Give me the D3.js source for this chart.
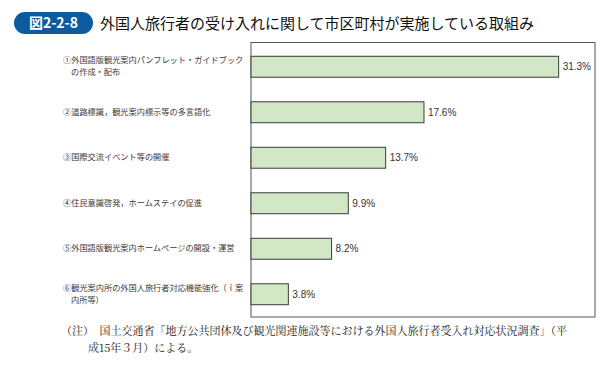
<!DOCTYPE html>
<html>
<head>
<meta charset="utf-8">
<script src="https://cdn.jsdelivr.net/npm/d3@7"></script>
<style>
  body { margin: 0; background: #fff; }
  svg { display: block; }
</style>
</head>
<body>
<svg width="614" height="367"></svg>
<script>
// 図2-2-8 data
var categories = [
    ["①外国語版観光案内パンフレット・ガイドブック", "の作成・配布"],
    ["②道路標識，観光案内標示等の多言語化"],
    ["③国際交流イベント等の開催"],
    ["④住民意識啓発，ホームステイの促進"],
    ["⑤外国語版観光案内ホームページの開設・運営"],
    ["⑥観光案内所の外国人旅行者対応機能強化（ｉ案", "内所等）"]
];
var values = [31.3, 17.6, 13.7, 9.9, 8.2, 3.8];
var xDomain = [0, 35];

var svg = d3.select("svg");
var jp = "'Noto Sans CJK JP', sans-serif";

var box = {left: 251, right: 595, top: 42.5, bottom: 317};

// title
svg.append("rect")
    .attr("x", 14).attr("y", 12)
    .attr("width", 79).attr("height", 22)
    .attr("rx", 11)
    .attr("fill", "#0b5b9e");
svg.append("text")
    .attr("x", 53.5).attr("y", 28)
    .attr("text-anchor", "middle")
    .attr("fill", "#fff")
    .style("font-family", jp)
    .style("font-weight", "bold")
    .style("font-size", "14px")
    .text("図2-2-8");
svg.append("text")
    .attr("x", 100).attr("y", 28.5)
    .attr("fill", "#111")
    .style("font-family", jp)
    .style("font-size", "15px")
    .text("外国人旅行者の受け入れに関して市区町村が実施している取組み");

var x = d3.scaleLinear()
    .domain(xDomain)
    .range([box.left, box.right]);

var y = d3.scaleBand()
    .domain(d3.range(values.length))
    .range([44, 317])
    .paddingInner(0.54)
    .paddingOuter(0.27);

// frame
svg.append("rect")
    .attr("x", box.left).attr("y", box.top)
    .attr("width", box.right - box.left)
    .attr("height", box.bottom - box.top)
    .attr("fill", "none")
    .attr("stroke", "#555")
    .attr("stroke-width", 1);

svg.selectAll(".bar")
    .data(values)
    .enter()
    .append("rect")
        .classed("bar", true)
        .attr("x", x(0))
        .attr("y", (d, i)=>y(i))
        .attr("width", d=>x(d) - x(0))
        .attr("height", y.bandwidth())
        .attr("fill", "#d1e7c5")
        .attr("stroke", "#3a3a3a")
        .attr("stroke-width", 1);

svg.selectAll(".val")
    .data(values)
    .enter()
    .append("text")
        .classed("val", true)
        .attr("x", d=>x(d) + 4)
        .attr("y", (d, i)=>y(i) + y.bandwidth() / 2 + 3.5)
        .attr("fill", "#333")
        .style("font-family", "'Liberation Sans', Arial, sans-serif")
        .style("font-size", "10px")
        .text(d=>d.toFixed(1) + "%");

// category labels, one text per line
categories.forEach(function(lines, i){
    var cy = y(i) + y.bandwidth() / 2;
    var lh = 12;
    var startY = cy - (lines.length - 1) * lh / 2 + 2.5;
    lines.forEach(function(line, j){
        svg.append("text")
            .classed("cat", true)
            .attr("x", j === 0 ? 63 : 71)
            .attr("y", startY + j * lh)
            .attr("fill", "#3a3a3a")
            .style("font-family", jp)
            .style("font-size", "8.2px")
            .text(line);
    });
});

// note
var note = svg.append("text")
    .attr("fill", "#222")
    .style("font-family", "'Noto Serif CJK JP', 'Noto Sans CJK JP', serif")
    .style("font-size", "11px");
note.append("tspan").attr("x", 61).attr("y", 335)
    .text("（注）　国土交通省「地方公共団体及び観光関連施設等における外国人旅行者受入れ対応状況調査」（平");
note.append("tspan").attr("x", 88).attr("y", 352)
    .text("成15年３月）による。");
</script>
</body>
</html>
